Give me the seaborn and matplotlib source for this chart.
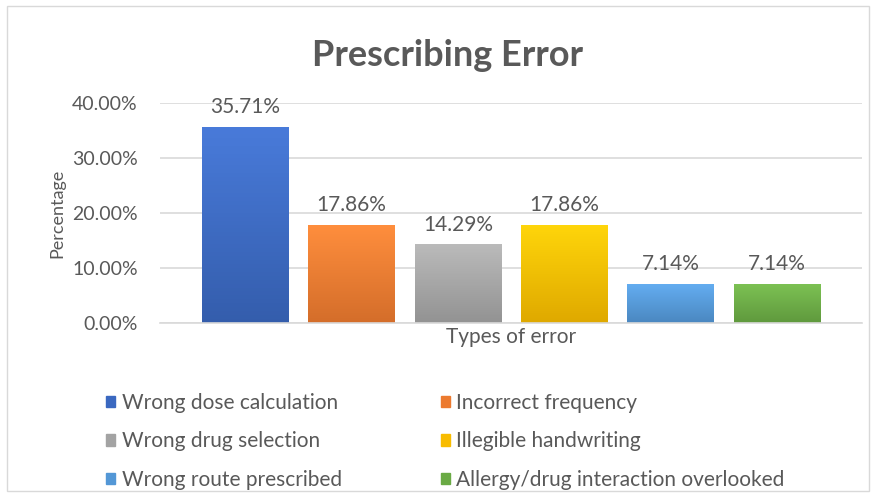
import matplotlib
matplotlib.use("Agg")
import matplotlib.pyplot as plt
import matplotlib.patches as mpatches
import numpy as np
import pandas as pd
import seaborn as sns
from matplotlib.colors import LinearSegmentedColormap, to_rgb

categories = ["Wrong dose calculation", "Incorrect frequency", "Wrong drug selection",
              "Illegible handwriting", "Wrong route prescribed",
              "Allergy/drug interaction overlooked"]
values = [0.3571, 0.1786, 0.1429, 0.1786, 0.0714, 0.0714]
labels = ["35.71%", "17.86%", "14.29%", "17.86%", "7.14%", "7.14%"]
colors = ["#3A68C0", "#EC7A2F", "#A3A3A3", "#F8BC00", "#5397D6", "#6AAA44"]
yticks = [0.0, 0.1, 0.2, 0.3, 0.4]
ytick_labels = ["0.00%", "10.00%", "20.00%", "30.00%", "40.00%"]

sns.set_theme(style="white")
plt.rcParams['font.family'] = ['Lato', 'DejaVu Sans']
TXT = "#595959"

fig = plt.figure(figsize=(8.77, 4.99), dpi=100)
ax = fig.add_axes([160/877, 1-323/499, 702/877, 220/499])

df = pd.DataFrame({"cat": categories, "val": values})
sns.barplot(data=df, x="cat", y="val", hue="cat", palette=colors, width=0.81,
            dodge=False, legend=False, ax=ax, saturation=1)

# gentle vertical gradient on each bar
for patch, c in zip(ax.patches, colors):
    r, g, b = to_rgb(c)
    top = tuple(min(1, v * 1.08 + 0.04) for v in (r, g, b))
    bot = tuple(v * 0.9 for v in (r, g, b))
    cmap = LinearSegmentedColormap.from_list("g", [bot, top])
    x0, y0 = patch.get_x(), patch.get_y()
    w, h = patch.get_width(), patch.get_height()
    im = ax.imshow(np.linspace(0, 1, 50).reshape(-1, 1), cmap=cmap, origin="lower",
                   extent=[x0, x0 + w, y0, y0 + h], aspect="auto", zorder=patch.get_zorder())
    im.set_clip_path(patch)
    patch.set_edgecolor("none")

ax.set_xlim(-0.8, 5.8)
ax.set_ylim(0, 0.40)
ax.set_yticks(yticks)
ax.set_yticklabels(ytick_labels, color=TXT, fontsize=14)
ax.set_xticks([])
ax.tick_params(axis="y", length=0, pad=16)
ax.yaxis.grid(True, color="#D9D9D9", linewidth=1.2)
ax.set_axisbelow(True)
for s in ["top", "right", "left"]:
    ax.spines[s].set_visible(False)
ax.spines["bottom"].set_color("#D9D9D9")
ax.spines["bottom"].set_linewidth(1.2)

for i, (v, lab) in enumerate(zip(values, labels)):
    ax.annotate(lab, (i, v), xytext=(0, 7), textcoords="offset points",
                ha="center", va="bottom", fontsize=15, color=TXT)

ax.set_xlabel("Types of error", fontsize=15, color=TXT, labelpad=3)
ax.set_ylabel("Percentage", fontsize=13, color=TXT, labelpad=5)

fig.text(448/877, 1-55/499, "Prescribing Error", ha="center", va="center",
         fontsize=26, fontweight="bold", color=TXT)

handles = [mpatches.Patch(color=c) for c in colors]
order = [0, 2, 4, 1, 3, 5]
fig.legend([handles[i] for i in order], [categories[i] for i in order], ncol=2,
           loc="upper left", bbox_to_anchor=(106/877, 1-393/499), frameon=False,
           fontsize=15, labelcolor=TXT, handlelength=0.45, handleheight=0.45,
           handletextpad=0.3, columnspacing=4.75, labelspacing=0.88, borderpad=0,
           borderaxespad=0)

fig.patches.append(mpatches.Rectangle((7/877, 8/499), 862/877, 485/499,
                   transform=fig.transFigure, fill=False, edgecolor="#D9D9D9", linewidth=1))

fig.savefig("out.png", dpi=100, facecolor="white")
